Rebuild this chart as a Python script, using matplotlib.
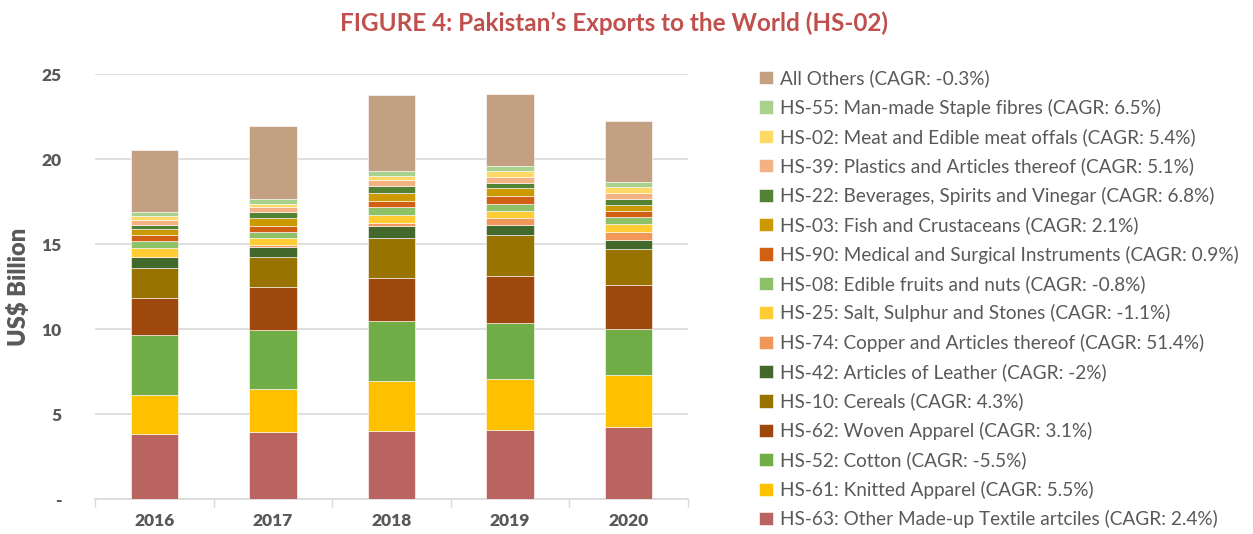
import matplotlib.pyplot as plt
import numpy as np

years = ['2016', '2017', '2018', '2019', '2020']

# US$ billion, stacked bottom to top
hs63 = [3.80, 3.92, 4.02, 4.04, 4.25]
hs61 = [2.35, 2.55, 2.92, 3.05, 3.06]
hs52 = [3.50, 3.49, 3.53, 3.27, 2.67]
hs62 = [2.20, 2.49, 2.55, 2.79, 2.59]
hs10 = [1.77, 1.77, 2.37, 2.37, 2.14]
hs42 = [0.62, 0.60, 0.67, 0.63, 0.56]
hs74 = [0.03, 0.12, 0.19, 0.37, 0.45]
hs25 = [0.48, 0.40, 0.46, 0.43, 0.44]
hs08 = [0.43, 0.35, 0.45, 0.41, 0.43]
hs90 = [0.35, 0.39, 0.39, 0.45, 0.39]
hs03 = [0.35, 0.43, 0.45, 0.47, 0.35]
hs22 = [0.24, 0.37, 0.43, 0.34, 0.33]
hs39 = [0.29, 0.28, 0.33, 0.35, 0.36]
hs02 = [0.24, 0.23, 0.26, 0.31, 0.33]
hs55 = [0.23, 0.24, 0.31, 0.30, 0.30]
others = [3.65, 4.31, 4.43, 4.25, 3.59]

series = [
    (hs63, 'HS-63: Other Made-up Textile artciles (CAGR: 2.4%)', '#BA6462'),
    (hs61, 'HS-61: Knitted Apparel (CAGR: 5.5%)', '#FFC000'),
    (hs52, 'HS-52: Cotton (CAGR: -5.5%)', '#70AD47'),
    (hs62, 'HS-62: Woven Apparel (CAGR: 3.1%)', '#9E480E'),
    (hs10, 'HS-10: Cereals (CAGR: 4.3%)', '#997300'),
    (hs42, 'HS-42: Articles of Leather (CAGR: -2%)', '#43682B'),
    (hs74, 'HS-74: Copper and Articles thereof (CAGR: 51.4%)', '#F1975A'),
    (hs25, 'HS-25: Salt, Sulphur and Stones (CAGR: -1.1%)', '#FFCD33'),
    (hs08, 'HS-08: Edible fruits and nuts (CAGR: -0.8%)', '#8CC168'),
    (hs90, 'HS-90: Medical and Surgical Instruments (CAGR: 0.9%)', '#D26012'),
    (hs03, 'HS-03: Fish and Crustaceans (CAGR: 2.1%)', '#CC9900'),
    (hs22, 'HS-22: Beverages, Spirits and Vinegar (CAGR: 6.8%)', '#548235'),
    (hs39, 'HS-39: Plastics and Articles thereof (CAGR: 5.1%)', '#F4B183'),
    (hs02, 'HS-02: Meat and Edible meat offals (CAGR: 5.4%)', '#FFD966'),
    (hs55, 'HS-55: Man-made Staple fibres (CAGR: 6.5%)', '#A9D18E'),
    (others, 'All Others (CAGR: -0.3%)', '#C3A082'),
]

plt.rcParams['font.family'] = ['Lato', 'DejaVu Sans']
grey = '#595959'

fig = plt.figure(figsize=(12.53, 5.34), dpi=100)
ax = fig.add_axes([0.0758, 0.0655, 0.4733, 0.7955])

x = np.arange(len(years))
bottom = np.zeros(len(years))
handles = []
for vals, label, color in series:
    b = ax.bar(x, vals, 0.4, bottom=bottom, color=color, label=label,
               edgecolor='white', linewidth=0.4, zorder=3)
    handles.append(b)
    bottom += np.array(vals)

ax.set_xlim(-0.5, 4.5)
ax.set_ylim(0, 25)
ax.set_yticks([0, 5, 10, 15, 20, 25])
ax.set_yticklabels(['-', '5', '10', '15', '20', '25'])
ax.set_xticks(x)
ax.set_xticklabels(years)
ax.set_xticks(np.arange(-0.5, 5, 1), minor=True)
ax.tick_params(axis='x', which='major', length=0, pad=10, labelsize=12.5, colors=grey)
ax.tick_params(axis='x', which='minor', length=6, color='#D9D9D9', width=1)
ax.tick_params(axis='y', length=0, pad=24, labelsize=12.5, colors=grey)
for t in ax.get_xticklabels() + ax.get_yticklabels():
    t.set_fontweight('heavy')

ax.grid(axis='y', color='#D9D9D9', linewidth=1.2, zorder=0)
for s in ['top', 'right', 'left']:
    ax.spines[s].set_visible(False)
ax.spines['bottom'].set_color('#D9D9D9')
ax.spines['bottom'].set_linewidth(1.2)

ax.set_ylabel('US$ Billion', fontsize=17, fontweight='heavy', color=grey, labelpad=8)

fig.text(0.49, 0.956, 'FIGURE 4: Pakistan\u2019s Exports to the World (HS-02)',
         ha='center', va='center', fontsize=17.5, color='#C0504D', fontweight='bold')

fig.legend(handles[::-1], [s[1] for s in series][::-1], loc='upper left',
           bbox_to_anchor=(0.5985, 0.888), frameon=False, fontsize=13.7,
           handlelength=0.7, handleheight=0.7, handletextpad=0.4,
           labelspacing=0.6, borderpad=0, labelcolor=grey)

fig.savefig('out.png', dpi=100)
